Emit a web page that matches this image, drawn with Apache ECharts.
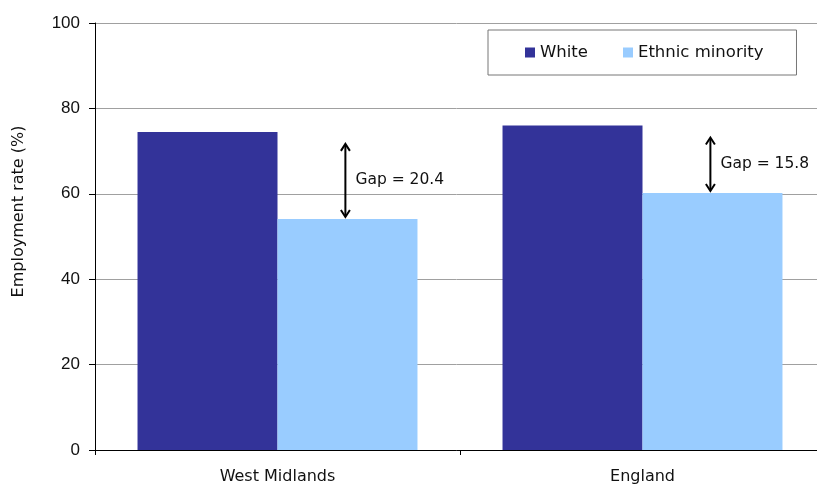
<!DOCTYPE html>
<html>
<head>
<meta charset="utf-8">
<script src="https://cdn.jsdelivr.net/npm/echarts@6/dist/echarts.min.js"></script>
<style>html,body{margin:0;padding:0;background:#fff;}#c{width:817px;height:487px;}</style>
</head>
<body>
<div id="c"></div>
<script>
var categories = ['West Midlands', 'England'];
var whiteValues = [74.5, 76.0];
var ethnicValues = [54.1, 60.2];
var yTicks = [0, 20, 40, 60, 80, 100];

var gapData = categories.map(function (c, i) { return [i, whiteValues[i], ethnicValues[i]]; });

var chart = echarts.init(document.getElementById('c'));
var sans = '"DejaVu Sans", Verdana, sans-serif';
chart.setOption({
  animation: false,
  backgroundColor: '#fff',
  grid: { left: 95, right: -8, top: 23, bottom: 37, outerBoundsMode: 'none', containLabel: false },
  legend: {
    data: ['White', 'Ethnic minority'],
    left: 488, top: 30,
    padding: [14, 33, 14, 37],
    itemWidth: 10, itemHeight: 10, itemGap: 35,
    icon: 'rect',
    borderColor: '#777', borderWidth: 1,
    textStyle: { fontFamily: sans, fontSize: 16.5, color: '#111' }
  },
  xAxis: {
    type: 'category',
    data: categories,
    axisLine: { lineStyle: { color: '#000', width: 1 } },
    axisTick: { show: true, length: 5, lineStyle: { color: '#000' } },
    axisLabel: { fontFamily: sans, fontSize: 16, color: '#111', margin: 19 }
  },
  yAxis: {
    type: 'value', min: 0, max: 100, interval: 20,
    name: 'Employment rate (%)', nameLocation: 'middle', nameGap: 68, nameRotate: 90,
    nameTextStyle: { fontFamily: sans, fontSize: 16, color: '#111', padding: [0, 0, 0, 50] },
    axisLine: { show: true, lineStyle: { color: '#000', width: 1 } },
    axisTick: { show: true, length: 6, lineStyle: { color: '#000' } },
    axisLabel: { fontFamily: '"Liberation Sans", Arial, sans-serif', fontSize: 17, color: '#111', margin: 15,
      formatter: function (v) { return yTicks.indexOf(v) >= 0 ? String(v) : ''; } },
    splitLine: { show: true, lineStyle: { color: '#a0a0a0', width: 1 } }
  },
  series: [
    { name: 'White', type: 'bar', data: whiteValues, itemStyle: { color: '#333399' }, barGap: '0%', barCategoryGap: '23.3%' },
    { name: 'Ethnic minority', type: 'bar', data: ethnicValues, itemStyle: { color: '#99CCFF' }, barGap: '0%', barCategoryGap: '23.3%' },
    {
      type: 'custom', name: 'gap', data: gapData, silent: true, z: 5,
      encode: { x: 0, y: [1, 2] },
      renderItem: function (params, api) {
        var i = api.value(0);
        var p1 = api.coord([i, api.value(1)]);
        var p2 = api.coord([i, api.value(2)]);
        var band = api.size([1, 0])[0];
        var x = p1[0] + band * 0.186;
        var y1 = p1[1] + 12, y2 = p2[1] - 2;
        var gap = (api.value(1) - api.value(2)).toFixed(1);
        var s = { stroke: '#000', lineWidth: 2, fill: null };
        return {
          type: 'group',
          children: [
            { type: 'line', shape: { x1: x, y1: y1 + 1, x2: x, y2: y2 - 1 }, style: s },
            { type: 'polyline', shape: { points: [[x - 4.5, y1 + 7], [x, y1], [x + 4.5, y1 + 7]] }, style: s },
            { type: 'polyline', shape: { points: [[x - 4.5, y2 - 7], [x, y2], [x + 4.5, y2 - 7]] }, style: s },
            { type: 'text', style: { x: x + 10, y: (y1 + y2) / 2, text: 'Gap = ' + gap,
              fontFamily: sans, fontSize: 15.5, fill: '#111', textAlign: 'left', textVerticalAlign: 'middle' } }
          ]
        };
      }
    }
  ]
});
</script>
</body>
</html>
